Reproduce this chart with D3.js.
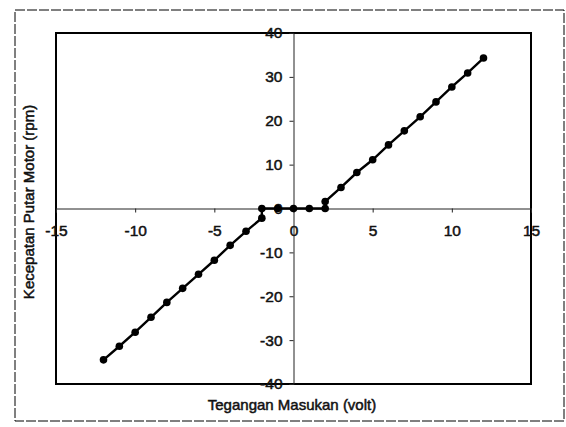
<!DOCTYPE html>
<html>
<head>
<meta charset="utf-8">
<script src="https://cdn.jsdelivr.net/npm/d3@7"></script>
<style>
  body { margin: 0; background: #fff; }
  svg text { font-family: "Liberation Sans", Arial, sans-serif; fill: #111; }
</style>
</head>
<body>
<svg width="566" height="427"></svg>
<script>
// tegangan masukan (volt) vs kecepatan putar motor (rpm)
let voltage = [-12, -11, -10, -9, -8, -7, -6, -5, -4, -3, -2,
    -2, -1, 0, 1, 2,
    2, 3, 4, 5, 6, 7, 8, 9, 10, 11, 12];
let speed = [-34.5, -31.4, -28.2, -24.8, -21.4, -18.2, -15, -11.8, -8.4, -5.2, -2.2,
    0, 0, 0, 0, 0,
    1.6, 4.8, 8.2, 11.1, 14.5, 17.7, 20.9, 24.3, 27.7, 30.9, 34.3];
let xTicks = [-15, -10, -5, 0, 5, 10, 15];
let yTicks = [-40, -30, -20, -10, 0, 10, 20, 30, 40];

let data = voltage.map(function (v, i) { return { x: v, y: speed[i] }; });

let svg = d3.select("svg");

let plotLeft = 56, plotRight = 531, plotTop = 33, plotBottom = 384;

let x = d3.scaleLinear().domain([-15, 15]).range([plotLeft, plotRight]);
let y = d3.scaleLinear().domain([-40, 40]).range([plotBottom, plotTop]);

// outer frame (dashed, like the scanned page)
svg.append("rect")
    .attr("x", 15).attr("y", 10)
    .attr("width", 549).attr("height", 411)
    .attr("fill", "none")
    .attr("stroke", "#000")
    .attr("stroke-width", 1)
    .attr("stroke-dasharray", "10,2");

// plot area border
svg.append("rect")
    .attr("x", plotLeft).attr("y", plotTop)
    .attr("width", plotRight - plotLeft).attr("height", plotBottom - plotTop)
    .attr("fill", "none")
    .attr("stroke", "#000")
    .attr("stroke-width", 2);

// axes crossing at zero, plain hyphen minus like the original
let plain = function (d) { return String(d); };
let xAxis = d3.axisBottom(x).tickValues(xTicks).tickFormat(plain).tickSize(4).tickPadding(12);
let yAxis = d3.axisLeft(y).tickValues(yTicks).tickFormat(plain).tickSize(4).tickPadding(7);

let gx = svg.append("g")
    .attr("transform", "translate(0," + y(0) + ")")
    .call(xAxis);
let gy = svg.append("g")
    .attr("transform", "translate(" + x(0) + ",0)")
    .call(yAxis);

[gx, gy].forEach(function (g) {
    g.select(".domain").attr("stroke", "#222").attr("stroke-width", 1);
    g.selectAll(".tick line").attr("stroke", "#222");
    g.selectAll(".tick text")
        .attr("font-size", 15.5)
        .attr("stroke", "#111")
        .attr("stroke-width", 0.5)
        .attr("fill", "#111");
});

// the data line
let line = d3.line()
    .x(function (d) { return x(d.x); })
    .y(function (d) { return y(d.y); });

svg.append("path")
    .datum(data)
    .attr("d", line)
    .attr("fill", "none")
    .attr("stroke", "#000")
    .attr("stroke-width", 2.4);

svg.append("g").selectAll("circle")
    .data(data)
    .enter()
    .append("circle")
    .attr("cx", function (d) { return x(d.x); })
    .attr("cy", function (d) { return y(d.y); })
    .attr("r", 3.8)
    .attr("fill", "#000");

// axis titles
svg.append("text")
    .attr("x", 292).attr("y", 410)
    .attr("text-anchor", "middle")
    .attr("font-size", 15)
    .attr("stroke", "#111").attr("stroke-width", 0.5)
    .text("Tegangan Masukan (volt)");

svg.append("text")
    .attr("transform", "translate(34,202) rotate(-90)")
    .attr("text-anchor", "middle")
    .attr("font-size", 15)
    .attr("stroke", "#111").attr("stroke-width", 0.5)
    .text("Kecepatan Putar Motor (rpm)");
</script>
</body>
</html>
